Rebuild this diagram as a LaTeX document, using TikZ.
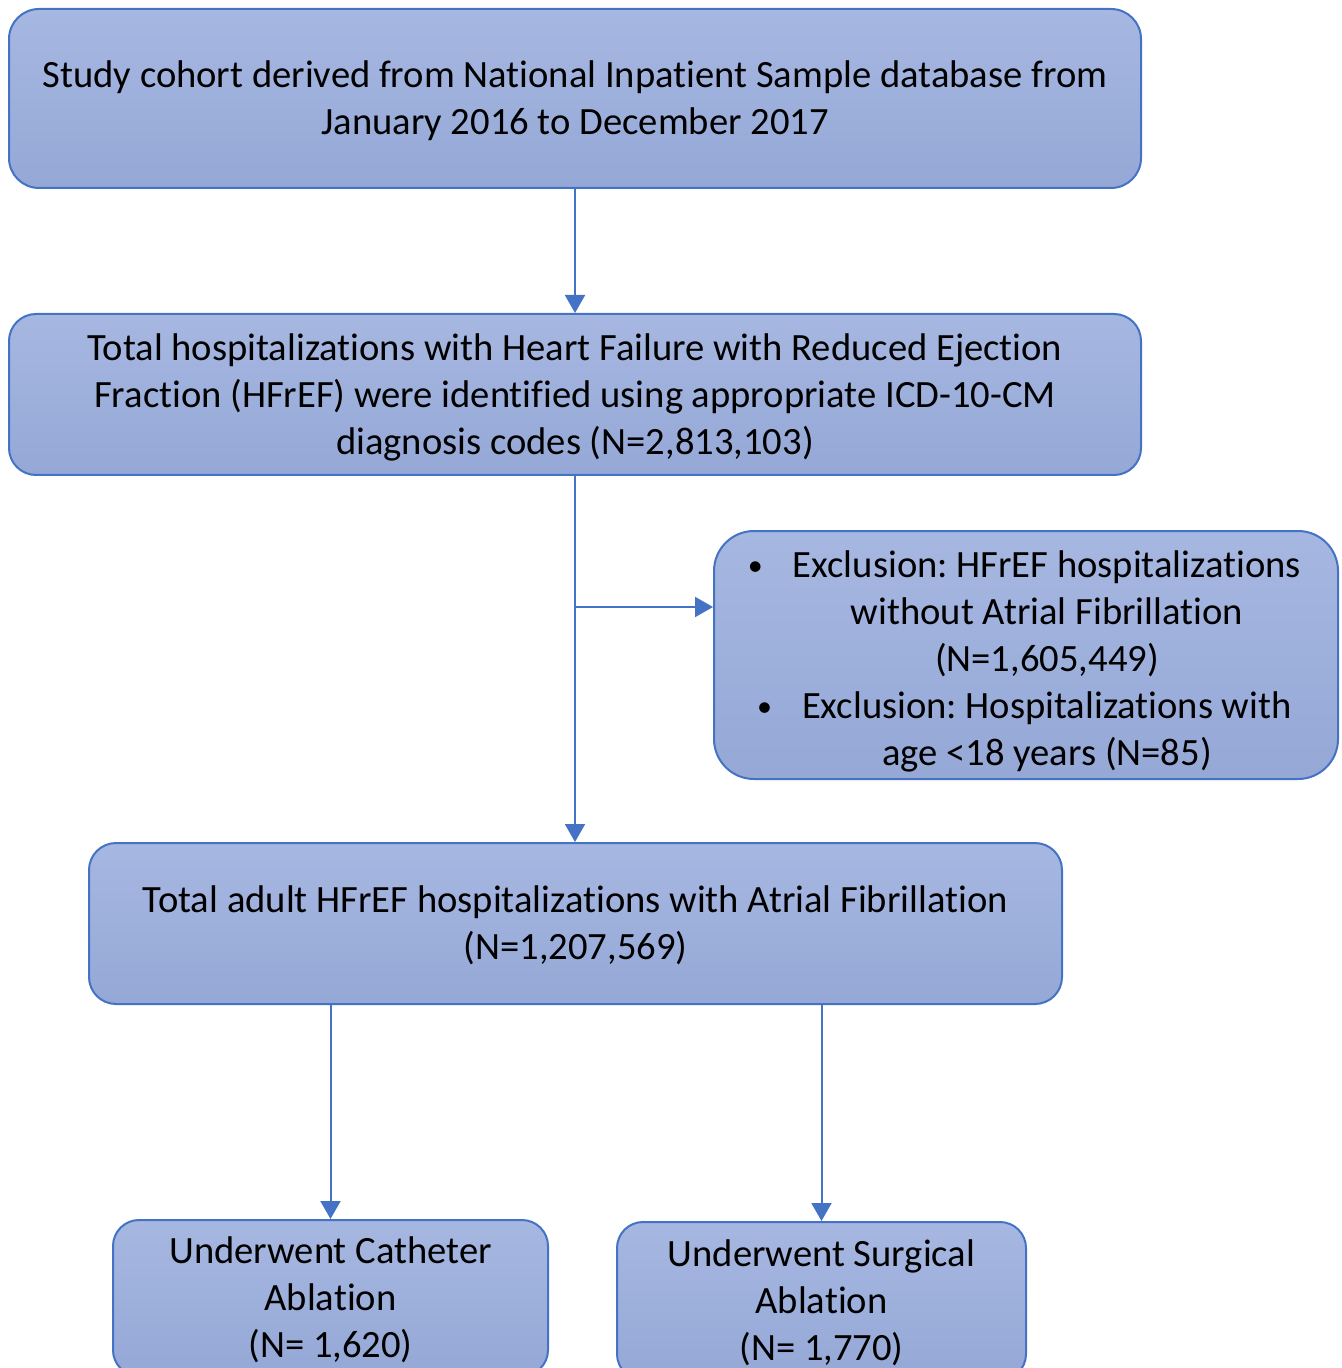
\documentclass[tikz,border=0pt]{standalone}
\usepackage{fontspec}
\setmainfont[Ligatures=NoCommon]{Carlito}
\usepackage{xcolor}
\usetikzlibrary{arrows.meta}

\definecolor{boxline}{HTML}{4472C4}
\definecolor{boxtop}{HTML}{A6B7E1}
\definecolor{boxbot}{HTML}{95A8D6}

\newcommand{\exclbullet}{\llap{\raisebox{1pt}{\fontsize{15}{15}\selectfont\textbullet}\hspace{15pt}}}

\begin{document}
\frenchspacing
\begin{tikzpicture}[
    x=0.5pt, y=-0.5pt,
    box/.style={draw=boxline, line width=1pt, top color=boxtop, bottom color=boxbot,
        align=center, inner sep=0pt, text depth=0.5pt, font=\fontsize{19.3}{23.5}\selectfont},
    flow/.style={draw=boxline, line width=1pt, -{Triangle[width=10pt,length=9pt]}},
]
\clip (0,0) rectangle (1341,1368);

% Cajas principales
\node[box, minimum width=566pt, minimum height=89.5pt, rounded corners=15pt] (cohort) at (575,98.5)
    {Study cohort derived from National Inpatient Sample database from\\
     January 2016 to December 2017};
\node[box, minimum width=566pt, minimum height=80.5pt, rounded corners=13.5pt] (hfref) at (575,394.5)
    {Total hospitalizations with Heart Failure with Reduced Ejection\\
     Fraction (HFrEF) were identified using appropriate ICD-10-CM\\
     diagnosis codes (N=2,813,103)};
\node[box, minimum width=312pt, minimum height=124pt, rounded corners=20pt] (excl) at (1026,655) {};
\node[align=center, text depth=0.5pt, font=\fontsize{19.3}{23.5}\selectfont] (excltxt) at (1047,659)
    {\exclbullet Exclusion: HFrEF hospitalizations\\
     without Atrial Fibrillation\\
     (N=1,605,449)\\
     \exclbullet Exclusion: Hospitalizations with\\
     age <18 years (N=85)};
\node[box, minimum width=486.5pt, minimum height=80.5pt, rounded corners=13.5pt] (adult) at (575.5,923.5)
    {Total adult HFrEF hospitalizations with Atrial Fibrillation\\
     (N=1,207,569)};

% Ablación
\node[box, minimum width=217.5pt, minimum height=78pt, rounded corners=13pt] (cath) at (330.5,1298)
    {Underwent Catheter\\ Ablation\\ (N= 1,620)};
\node[box, minimum width=204.5pt, minimum height=79pt, rounded corners=13pt] (surg) at (821.5,1301)
    {Underwent Surgical\\ Ablation\\ (N= 1,770)};

% Flechas
\coordinate (split) at (575,607);
\draw[flow] (cohort.south) -- (hfref.north);
\draw[flow] (hfref.south) -- (adult.north -| hfref.south);
\draw[flow] (split) -- (split -| excl.west);
\draw[flow] (cath.north |- adult.south) -- (cath.north);
\draw[flow] (surg.north |- adult.south) -- (surg.north);

\end{tikzpicture}
\end{document}
